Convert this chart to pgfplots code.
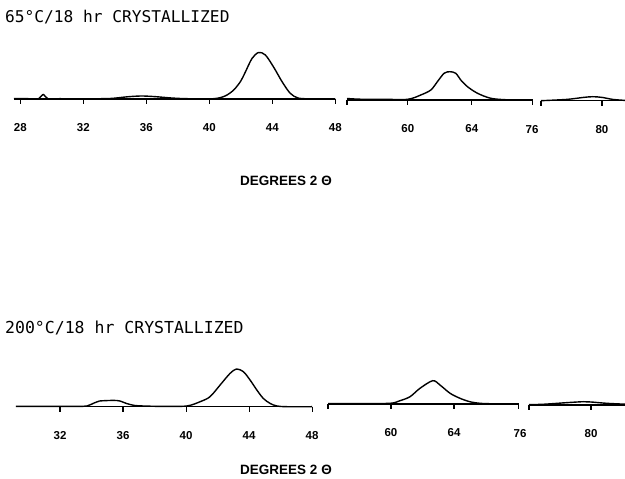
\documentclass[border=0pt]{standalone}
\usepackage{pgfplots}
\pgfplotsset{compat=1.18}
\usepackage{fontspec}
\setmainfont{Liberation Sans}
\newfontfamily\titlefont{DejaVu Sans Mono}
\begin{document}
\begin{tikzpicture}
\useasboundingbox (0pt,0pt) rectangle (625pt,479pt);
\pgfplotsset{seg/.style={axis x line=bottom, axis y line=none,
  x axis line style={-, line width=1.2pt},
  xtick align=outside, major tick length=5pt,
  tick style={black, line width=1.2pt},
  ymin=0, ymax=50, y=1pt, clip=false, anchor=south west,
  xticklabel style={font=\bfseries\fontsize{11.5}{12}\selectfont, yshift=-16pt}},
  curve/.style={black, line width=1.4pt, smooth, tension=0.5, mark=none}}
% ---------- top panel ----------
\node[anchor=west, inner sep=0pt, font=\titlefont\fontsize{16.2}{18}\selectfont] at (5pt,461.5pt) {65°C/18 hr CRYSTALLIZED};
\begin{axis}[seg, x=15.75pt, xmin=27.6, xmax=48, at={(14pt,380pt)},
  xtick={28,32,36,40,44,48}, xticklabels={28,32,36,40,44,48}]
\addplot[curve] coordinates {(27.6,0.3) (28.5,0.3) (29.15,0.2) (29.45,4.5) (29.75,0.3) (30.5,0.3) (32,0.2) (33.7,0.5) (34.8,2.2) (35.7,3) (36.6,2.3) (37.6,1) (38.6,0.3) (40.27,0.3) (41.0,3) (41.55,9) (42.0,18) (42.29,27) (42.71,40.5) (43.13,46.5) (43.56,44) (44.08,32) (44.62,17.3) (45.14,5.7) (45.67,0.8) (46.6,0.2) (47.5,0.2) (48,0)};
\end{axis}
\begin{axis}[seg, x=16pt, xmin=56.2, xmax=67.8, at={(347pt,379pt)},
  xtick={56.2,60,64,67.8}, xticklabels={,60,64,}]
\addplot[curve] coordinates {(56.2,1.5) (57,0.8) (58.5,0.7) (60.0,0.7) (60.81,5) (61.44,10) (61.85,18.3) (62.27,26.7) (62.63,28.3) (63.0,26.7) (63.31,20) (63.73,13.3) (64.36,6.7) (65.19,1.7) (66.23,0.2) (67.8,0)};
\end{axis}
\begin{axis}[seg, x=15.25pt, xmin=76, xmax=81.5, at={(541pt,378.3pt)},
  xtick={76,80}, xticklabels={\makebox[0pt]{\hspace{-18pt}76},80}]
\addplot[curve] coordinates {(76,0) (77.7,1.3) (78.8,3.3) (79.4,4) (80.0,3.3) (80.7,1.3) (81.5,0.3)};
\end{axis}
\node[inner sep=0pt, font=\bfseries\fontsize{13.5}{15}\selectfont] at (286pt,298pt) {DEGREES 2 Θ};
% ---------- bottom panel ----------
\node[anchor=west, inner sep=0pt, font=\titlefont\fontsize{16.5}{18}\selectfont] at (5pt,151pt) {200°C/18 hr CRYSTALLIZED};
\begin{axis}[seg, x=15.75pt, xmin=29.2, xmax=48, at={(16pt,72.3pt)},
  xtick={32,36,40,44,48}, xticklabels={32,36,40,44,48}]
\addplot[curve] coordinates {(29.2,0.3) (31,0.3) (33.0,0.3) (33.7,0.7) (34.2,4) (34.5,5.7) (35.4,6.3) (35.8,5.7) (36.2,3.3) (36.7,1.3) (37.3,0.7) (38.5,0.3) (40.04,0.7) (40.89,5) (41.52,10) (42.16,21.7) (42.79,33.3) (43.2,37.7) (43.64,35) (44.06,26.7) (44.49,16.7) (44.9,8.3) (45.33,3.3) (45.76,0.7) (46.4,0) (48,0)};
\end{axis}
\begin{axis}[seg, x=15.75pt, xmin=56, xmax=68.1, at={(328pt,75pt)},
  xtick={56,60,64,68.1}, xticklabels={,60,64,}]
\addplot[curve] coordinates {(56,0.5) (58,0.5) (59.94,0.7) (60.57,3.3) (61.21,7.3) (61.84,15.7) (62.65,23.3) (63.11,19) (63.75,10.7) (64.38,5.7) (65.0,2.3) (65.65,0.7) (66.5,0.2) (68.1,0)};
\end{axis}
\begin{axis}[seg, x=15.5pt, xmin=76, xmax=82.2, at={(529pt,74pt)},
  xtick={76,80}, xticklabels={\makebox[0pt]{\hspace{-18pt}76},80}]
\addplot[curve] coordinates {(76,0.3) (77,0.8) (78.4,2.3) (79.5,3.3) (80.0,3) (81.0,1.7) (82.2,0.8)};
\end{axis}
\node[inner sep=0pt, font=\bfseries\fontsize{13.5}{15}\selectfont] at (286pt,9pt) {DEGREES 2 Θ};
\end{tikzpicture}
\end{document}
